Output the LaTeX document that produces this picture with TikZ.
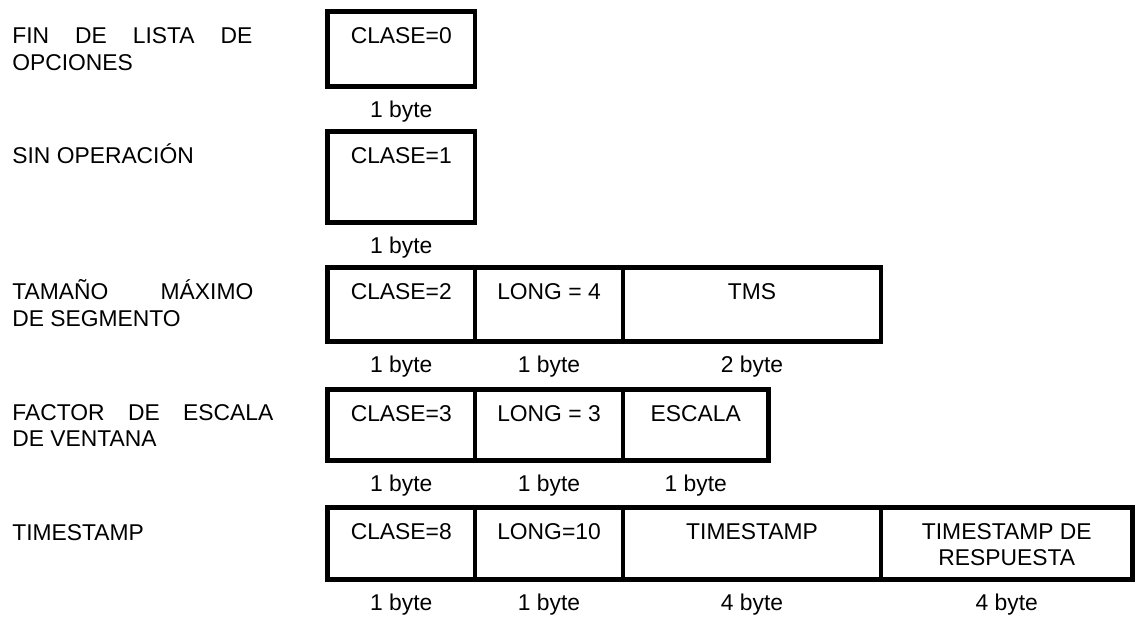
\documentclass[tikz,border=0pt]{standalone}
\usepackage{fontspec}
\setmainfont{Liberation Sans}
\usepackage{tikz}
\usetikzlibrary{positioning}

\begin{document}
\begin{tikzpicture}[
    cell/.style={draw=black, line width=2.7pt, inner sep=0pt, outer sep=0pt,
                 text height=0.63cm, text depth=#1, align=center},
    cell/.default=0.85cm,
    byte/.style={inner sep=0pt},
    opt/.style={inner sep=0pt, anchor=base west, align=left},
    font=\fontsize{13pt}{14.8pt}\selectfont
]
\useasboundingbox (0,0) rectangle (22.72,-12.32);

%% --- Nombres de las opciones (base = ultima linea) ---
\node[opt] (fin)  at (0.24,-1.40)  {\makebox[4.8cm][s]{FIN DE LISTA DE}\\OPCIONES};
\node[opt] (nop)  at (0.24,-3.26)  {SIN OPERACIÓN};
\node[opt] (tms)  at (0.24,-6.52)  {\makebox[4.82cm][s]{TAMAÑO MÁXIMO}\\DE SEGMENTO};
\node[opt] (esc)  at (0.24,-8.92)  {\makebox[5.22cm][s]{FACTOR DE ESCALA}\\DE VENTANA};
\node[opt] (tstp) at (0.24,-10.8)  {TIMESTAMP};

%% --- Fin de lista ---
\node[cell=0.87cm, minimum width=2.95cm, anchor=north west] (r1a) at (6.55,-0.23) {CLASE=0};
\node[byte, below=0.29cm of r1a] (b1a) {1 byte};

%% --- Sin operacion ---
\node[cell=1.19cm, minimum width=2.95cm, anchor=north west] (r2a) at (6.55,-2.63) {CLASE=1};
\node[byte, below=0.29cm of r2a] (b2a) {1 byte};

%% --- Tamano maximo de segmento ---
\node[cell, minimum width=2.95cm, anchor=north west] (r3a) at (6.55,-5.35) {CLASE=2};
\node[cell, minimum width=2.96cm, right=0pt of r3a] (r3b) {LONG = 4};
\node[cell, minimum width=5.16cm, right=0pt of r3b] (r3c) {TMS};
\node[byte, below=0.29cm of r3a] (b3a) {1 byte};
\node[byte, below=0.29cm of r3b] (b3b) {1 byte};
\node[byte, below=0.29cm of r3c] (b3c) {2 byte};

%% --- Factor de escala de ventana ---
\node[cell=0.79cm, minimum width=2.95cm, anchor=north west] (r4a) at (6.55,-7.79) {CLASE=3};
\node[cell=0.79cm, minimum width=2.96cm, right=0pt of r4a] (r4b) {LONG = 3};
\node[cell=0.79cm, minimum width=2.91cm, right=0pt of r4b] (r4c) {ESCALA};
\node[byte, below=0.29cm of r4a] (b4a) {1 byte};
\node[byte, below=0.29cm of r4b] (b4b) {1 byte};
\node[byte, below=0.29cm of r4c] (b4c) {1 byte};

%% --- Timestamp ---
\node[cell=0.81cm, minimum width=2.95cm, anchor=north west] (r5a) at (6.55,-10.15) {CLASE=8};
\node[cell=0.81cm, minimum width=2.96cm, right=0pt of r5a] (r5b) {LONG=10};
\node[cell=0.81cm, minimum width=5.16cm, right=0pt of r5b] (r5c) {TIMESTAMP};
\node[cell=0.29cm, text height=1.15cm, minimum width=5.03cm, right=0pt of r5c] (r5d) {TIMESTAMP DE\\RESPUESTA};
\node[byte, below=0.29cm of r5a] (b5a) {1 byte};
\node[byte, below=0.29cm of r5b] (b5b) {1 byte};
\node[byte, below=0.29cm of r5c] (b5c) {4 byte};
\node[byte, below=0.29cm of r5d] (b5d) {4 byte};

\end{tikzpicture}
\end{document}
